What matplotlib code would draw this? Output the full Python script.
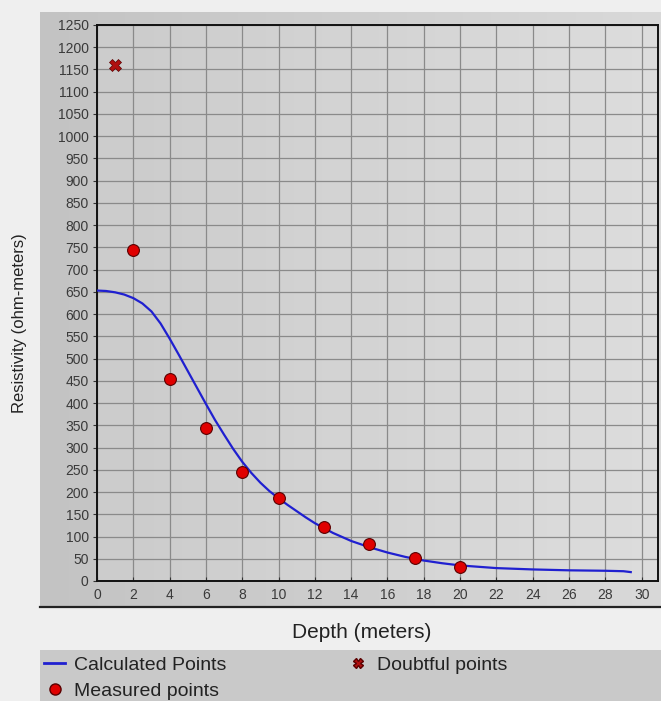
import numpy as np
import matplotlib
matplotlib.use('Agg')
import matplotlib.pyplot as plt
from matplotlib.patches import Rectangle
from matplotlib.lines import Line2D

plt.rcParams['font.family'] = ['Liberation Sans', 'DejaVu Sans']

# measured sounding points
depth_measured = [2, 4, 6, 8, 10, 12.5, 15, 17.5, 20]
res_measured = [745, 455, 345, 245, 187, 121, 84, 52, 31]

# doubtful point
depth_doubtful = [1]
res_doubtful = [1160]

# calculated curve
depth_calc = [0, 0.5, 1, 1.5, 2, 2.5, 3, 3.5, 4, 4.5, 5, 5.5, 6, 6.5, 7, 7.5, 8,
              8.5, 9, 9.5, 10, 10.5, 11, 11.5, 12, 13, 14, 15, 16, 17, 18, 19, 20,
              21, 22, 24, 26, 28, 29, 29.4]
res_calc = [653, 652, 649, 644, 636, 624, 606, 579, 545, 509, 472, 435, 398, 362,
            329, 297, 268, 243, 221, 202, 186, 171, 157, 143, 130, 108, 90, 76, 64,
            54, 46, 40, 35, 32, 29, 26, 24, 23, 22, 20]

xticks = list(range(0, 31, 2))
yticks = list(range(0, 1251, 50))

W, H = 661, 701
fig = plt.figure(figsize=(W / 100, H / 100), dpi=100)
fig.patch.set_facecolor('#efefef')

# chart panel with a soft horizontal gradient
bg = fig.add_axes([40 / W, 1 - 607 / H, 621 / W, 595 / H])
grad = np.linspace(0, 1, 256).reshape(1, -1)
bg.imshow(grad, aspect='auto', cmap=matplotlib.colors.LinearSegmentedColormap.from_list(
    'g', ['#c3c3c3', '#d9d9d9']), extent=[0, 1, 0, 1])
bg.set_axis_off()
fig.add_artist(Line2D([40 / W, 1], [1 - 607 / H, 1 - 607 / H], color='#222222', lw=1.6))

# legend panel
fig.add_artist(Rectangle((40 / W, 0), 621 / W, 51 / H, facecolor='#c9c9c9',
                         edgecolor='none', transform=fig.transFigure))

ax = fig.add_axes([97 / W, 1 - 581 / H, 561 / W, 556 / H])
ax.set_facecolor((1, 1, 1, 0.12))
ax.set_xlim(0, 30.9)
ax.set_ylim(0, 1250)
ax.set_xticks(xticks)
ax.set_yticks(yticks)
ax.grid(True, color='#8a8a8a', lw=0.9)
ax.set_axisbelow(True)
for s in ax.spines.values():
    s.set_color('#111111')
    s.set_linewidth(1.4)
ax.tick_params(axis='both', labelsize=10, labelcolor='#3a3a3a', color='#333333', length=3)
ax.tick_params(axis='x', direction='in', pad=5)
ax.tick_params(axis='y', pad=3)

ax.plot(depth_calc, res_calc, color='#2020d0', lw=1.6, zorder=3)
ax.plot(depth_measured, res_measured, 'o', ms=8.5, mfc='#e00000', mec='#5a0000', mew=0.8, zorder=4)
ax.plot(depth_doubtful, res_doubtful, 'X', ms=8, mfc='#b01010', mec='#5a0000', mew=0.5, zorder=4)

fig.text(362 / W, 1 - 632 / H, 'Depth (meters)', fontsize=15, color='#222222',
         ha='center', va='center')
fig.text(20 / W, 1 - 323 / H, 'Resistivity (ohm-meters)', fontsize=12, color='#222222',
         rotation=90, ha='center', va='center')

handles = [
    Line2D([], [], color='#2020d0', lw=2),
    Line2D([], [], ls='none', marker='o', ms=8, mfc='#e00000', mec='#5a0000'),
    Line2D([], [], ls='none', marker='X', ms=7, mfc='#b01010', mec='#5a0000'),
]
labels = ['Calculated Points', 'Measured points', 'Doubtful points']
fig.legend(handles, labels, loc='upper left', bbox_to_anchor=(42 / W, 1 - 654 / H),
           ncol=2, frameon=False, fontsize=14, handlelength=1.1, handletextpad=0.45,
           columnspacing=6.2, labelspacing=0.45, borderaxespad=0, borderpad=0.1,
           labelcolor='#222222')

fig.savefig('out.png', dpi=100, facecolor=fig.get_facecolor())
